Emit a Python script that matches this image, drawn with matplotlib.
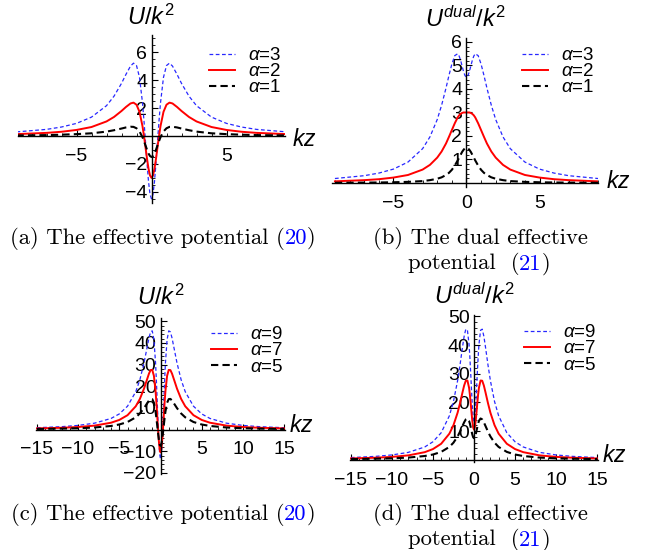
import numpy as np
import matplotlib.pyplot as plt

plt.rcParams['font.family'] = ['Liberation Sans', 'DejaVu Sans']
plt.rcParams['mathtext.fontset'] = 'custom'
plt.rcParams['mathtext.rm'] = 'Liberation Sans'
plt.rcParams['mathtext.it'] = 'Liberation Sans:italic'

# values for kz >= 0 (the curves are symmetric in kz)
kz_ab = [0, 0.1, 0.2, 0.3, 0.4, 0.5, 0.6, 0.8, 1.0, 1.2, 1.4, 1.7, 2.0, 2.5, 3, 4, 5, 6, 7, 9]
U_a3 = [-4.5, -4.17, -3.25, -1.91, -0.40, 1.08, 2.38, 4.22, 5.06, 5.23, 5.02, 4.43, 3.78, 2.86, 2.18, 1.36, 0.91, 0.65, 0.48, 0.30]
U_a2 = [-3, -2.82, -2.33, -1.62, -0.80, 0.0, 0.71, 1.74, 2.25, 2.40, 2.34, 2.09, 1.80, 1.37, 1.05, 0.65, 0.44, 0.31, 0.23, 0.14]
U_a1 = [-1.5, -1.43, -1.25, -0.98, -0.67, -0.36, -0.08, 0.33, 0.56, 0.66, 0.67, 0.62, 0.54, 0.42, 0.32, 0.20, 0.14, 0.10, 0.07, 0.045]
Ud_b3 = [4.5, 4.57, 4.74, 4.98, 5.22, 5.40, 5.50, 5.42, 5.06, 4.57, 4.04, 3.31, 2.70, 1.96, 1.46, 0.89, 0.59, 0.42, 0.31, 0.19]
Ud_b2 = [3, 3.00, 3.00, 2.98, 2.94, 2.88, 2.79, 2.54, 2.25, 1.96, 1.68, 1.34, 1.08, 0.77, 0.57, 0.34, 0.23, 0.16, 0.12, 0.07]
Ud_b1 = [1.5, 1.48, 1.41, 1.32, 1.20, 1.08, 0.96, 0.74, 0.56, 0.43, 0.34, 0.24, 0.18, 0.12, 0.08, 0.047, 0.030, 0.021, 0.015, 0.009]

kz_cd = [0, 0.1, 0.2, 0.3, 0.4, 0.5, 0.6, 0.8, 1.0, 1.2, 1.4, 1.7, 2.0, 2.5, 3, 4, 5, 6, 8, 10, 12, 15]
U_c9 = [-13.5, -11.31, -5.24, 3.47, 13.24, 22.68, 30.80, 41.56, 45.56, 45.08, 42.25, 36.50, 30.78, 23.02, 17.48, 10.79, 7.22, 5.14, 2.96, 1.92, 1.34, 0.86]
U_c7 = [-10.5, -9.11, -5.24, 0.31, 6.56, 12.6, 17.83, 24.82, 27.56, 27.45, 25.81, 22.37, 18.9, 14.16, 10.76, 6.64, 4.45, 3.17, 1.83, 1.18, 0.83, 0.54]
U_c5 = [-7.5, -6.73, -4.58, -1.48, 2.01, 5.4, 8.35, 12.39, 14.06, 14.16, 13.40, 11.68, 9.9, 7.44, 5.66, 3.50, 2.35, 1.67, 0.96, 0.62, 0.44, 0.28]
Ud_d9 = [13.5, 14.89, 18.72, 24.15, 30.10, 35.64, 40.14, 45.18, 45.56, 43.08, 39.29, 33.12, 27.54, 20.32, 15.32, 9.39, 6.26, 4.44, 2.56, 1.66, 1.16, 0.74]
Ud_d7 = [10.5, 11.27, 13.40, 16.39, 19.66, 22.68, 25.09, 27.64, 27.56, 25.89, 23.51, 19.75, 16.38, 12.06, 9.08, 5.56, 3.71, 2.63, 1.51, 0.98, 0.69, 0.44]
Ud_d5 = [7.5, 7.83, 8.74, 10.0, 11.37, 12.6, 13.55, 14.39, 14.06, 13.06, 11.76, 9.80, 8.1, 5.94, 4.46, 2.72, 1.81, 1.29, 0.74, 0.48, 0.34, 0.22]

labels_top = ['$\\alpha$=3', '$\\alpha$=2', '$\\alpha$=1']
labels_bot = ['$\\alpha$=9', '$\\alpha$=7', '$\\alpha$=5']

W, H = 650, 550
fig = plt.figure(figsize=(6.5, 5.5), dpi=100)


def both(x, y):
    x = np.asarray(x, float)
    y = np.asarray(y, float)
    return np.r_[-x[:0:-1], x], np.r_[y[:0:-1], y]


def panel(px0, px1, py0, py1, xlim, ylim, xt, xmin, yt, ymin):
    ax = fig.add_axes([px0 / W, 1 - py1 / H, (px1 - px0) / W, (py1 - py0) / H])
    ax.set_xlim(xlim)
    ax.set_ylim(ylim)
    ax.patch.set_alpha(0)
    for s in ['top', 'right']:
        ax.spines[s].set_visible(False)
    ax.spines['left'].set_position(('data', 0))
    ax.spines['bottom'].set_position(('data', 0))
    ax.spines['left'].set_linewidth(1.0)
    ax.spines['bottom'].set_linewidth(1.0)
    ax.set_xticks(xt)
    ax.set_xticks(xmin, minor=True)
    ax.set_yticks(yt)
    ax.set_yticks(ymin, minor=True)
    ax.set_xticklabels([f'{v:g}'.replace('-', '\u2212') for v in xt])
    ax.set_yticklabels([f'{v:g}'.replace('-', '\u2212') for v in yt])
    ax.tick_params(which='major', direction='in', length=4, width=0.8, labelsize=14)
    ax.tick_params(which='minor', direction='in', length=2, width=0.6)
    ax.tick_params(axis='x', which='major', pad=8.5)
    ax.tick_params(axis='y', which='major', pad=3)
    return ax


def curves(ax, kz, ys, labs, lx, ly):
    x, y = both(kz, ys[0])
    ax.plot(x, y, color='#2828ff', lw=0.9, dashes=(3, 2), label=labs[0])
    x, y = both(kz, ys[1])
    ax.plot(x, y, color='#ff0000', lw=1.4, label=labs[1])
    x, y = both(kz, ys[2])
    ax.plot(x, y, color='black', lw=1.5, dashes=(3.5, 2), label=labs[2])
    ax.legend(loc='upper left', bbox_to_anchor=(lx / W, 1 - ly / H), bbox_transform=fig.transFigure,
              frameon=False, fontsize=13.5, handlelength=1.4, handletextpad=0.7,
              labelspacing=-0.05, borderpad=0, borderaxespad=0)


def label(x, y, s, size=17):
    fig.text(x / W, 1 - y / H, s, fontsize=size, ha='center', va='center')


# (a)
ax = panel(18, 285, 35, 203, (-8.9, 8.9), (-4.8, 7.25), [-5, 5], np.arange(-8, 9, 1),
           [-4, -2, 2, 4, 6], np.arange(-4.5, 7.1, 0.5))
curves(ax, kz_ab, [U_a3, U_a2, U_a1], labels_top, 209, 47)
label(151, 17, '$U/k^2$')
label(304, 139, '$kz$', 16.5)

# (b)
ax = panel(332, 598, 38, 186.5, (-9.2, 8.9), (-0.15, 6.17), [-5, 0, 5], np.arange(-9, 9.1, 1),
           [1, 2, 3, 4, 5, 6], np.arange(0, 6.1, 0.2))
curves(ax, kz_ab, [Ud_b3, Ud_b2, Ud_b1], labels_top, 522, 47)
label(466, 19, '$U^{dual}/k^2$')
label(618, 182, '$kz$', 16.5)

# (c)
ax = panel(36, 285, 318, 474, (-15.1, 15.1), (-20.5, 51.5), [-15, -10, -5, 5, 10, 15],
           np.arange(-15, 16, 1), [-20, -10, 10, 20, 30, 40, 50], np.arange(-20, 51, 2))
curves(ax, kz_cd, [U_c9, U_c7, U_c5], labels_bot, 211, 326)
label(161, 297, '$U/k^2$')
label(301, 425, '$kz$', 16.5)

# (d)
ax = panel(350, 598, 315, 462, (-15.1, 15.1), (-0.8, 50.5), [-15, -10, -5, 0, 5, 10, 15],
           np.arange(-15, 16, 1), [10, 20, 30, 40, 50], np.arange(0, 51, 2))
curves(ax, kz_cd, [Ud_d9, Ud_d7, Ud_d5], labels_bot, 524, 324)
label(475, 296, '$U^{dual}/k^2$')
label(614, 455, '$kz$', 16.5)

# captions
renderer = fig.canvas.get_renderer()


def caption(xc, yc, parts, size=16.3):
    ts, ws = [], []
    for s, c in parts:
        t = fig.text(0, 0, s, color=c, fontsize=size, family='cmr10', va='center')
        ws.append(t.get_window_extent(renderer).width)
        ts.append(t)
    x = xc - sum(ws) / 2
    for t, w in zip(ts, ws):
        t.set_position((x / W, 1 - yc / H))
        x += w


blue = '#0000ff'
caption(163, 238, [('(a) The effective potential (', 'black'), ('20', blue), (')', 'black')])
caption(480, 238, [('(b) The dual effective', 'black')])
caption(479, 264, [('potential  (', 'black'), ('21', blue), (')', 'black')])
caption(163, 514, [('(c) The effective potential (', 'black'), ('20', blue), (')', 'black')])
caption(480, 514, [('(d) The dual effective', 'black')])
caption(479, 540, [('potential  (', 'black'), ('21', blue), (')', 'black')])

fig.savefig('out.png', dpi=100)
